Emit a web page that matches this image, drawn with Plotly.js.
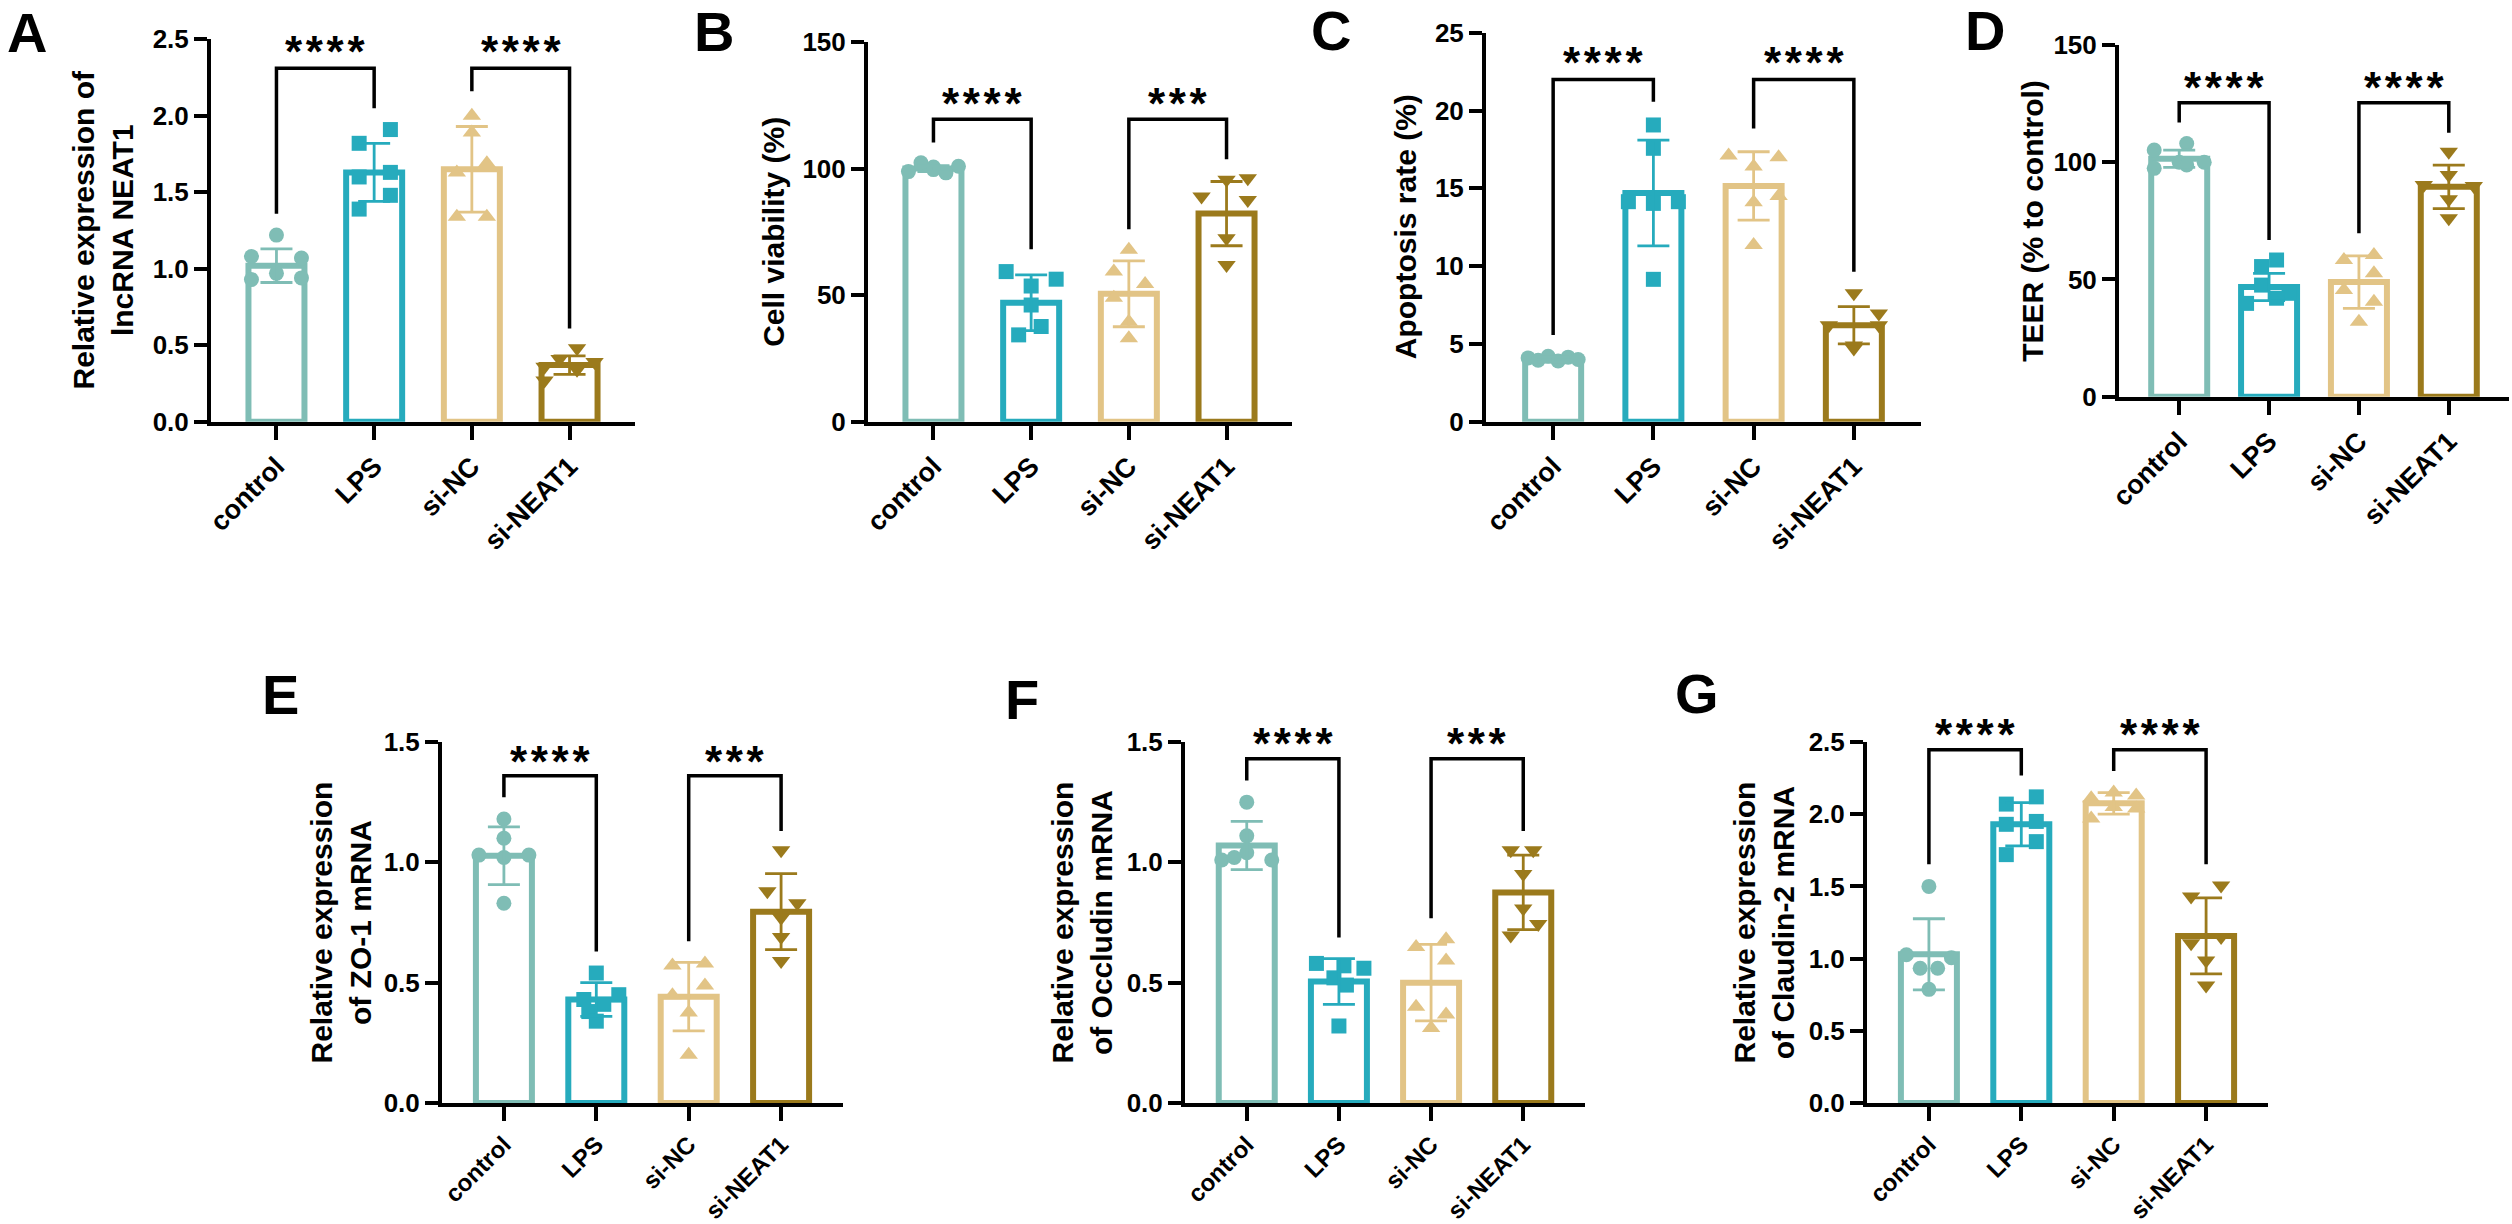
<!DOCTYPE html>
<html><head><meta charset="utf-8">
<script src="https://cdn.plot.ly/plotly-3.0.1.min.js"></script>
<style>html,body{margin:0;padding:0;background:#fff;} #chart{width:2512px;height:1224px;}</style>
</head><body><div id="chart"></div>
<script>
// ---------------- DATA ----------------
const categories = ['control', 'LPS', 'si-NC', 'si-NEAT1'];

// Panel A: lncRNA NEAT1
const A_mean = [1.02, 1.63, 1.65, 0.37];
const A_sd = [0.11, 0.19, 0.28, 0.06];
const A_points = [[1.22, 1.08, 1.07, 0.97, 0.93, 0.94], [1.82, 1.91, 1.60, 1.63, 1.39, 1.48], [2.00, 1.89, 1.63, 1.69, 1.34, 1.34], [0.48, 0.41, 0.36, 0.39, 0.34, 0.27]];
const A_brackets = [[2.31, 1.36, 2.05], [2.31, 2.16, 0.61]];
const A_stars = ['****', '****'];
const A_ticks = [0, 0.5, 1.0, 1.5, 2.0, 2.5];
const A_ticktext = ['0.0', '0.5', '1.0', '1.5', '2.0', '2.5'];

// Panel B: cell viability
const B_mean = [100, 47, 50.5, 82.2];
const B_sd = [1.2, 11, 13, 12.7];
const B_points = [[98.8, 102.3, 100.6, 98.3, 100.9, 99.6], [59.3, 56.3, 53.6, 46.1, 37.6, 34.3], [67.9, 59.3, 54.4, 49.0, 39.5, 33.0], [95.6, 96.2, 89.0, 87.6, 72.5, 61.9]];
const B_brackets = [[119.5, 110.3, 68.1], [119.5, 76, 103.7]];
const B_stars = ['****', '***'];
const B_ticks = [0, 50, 100, 150];
const B_ticktext = ['0', '50', '100', '150'];

// Panel C: apoptosis rate
const C_mean = [4.0, 14.7, 15.15, 6.2];
const C_sd = [0.15, 3.4, 2.2, 1.2];
const C_points = [[4.1, 3.95, 4.2, 3.9, 4.15, 4.0], [19.07, 17.57, 14.14, 14.03, 14.14, 9.15], [17.1, 17.0, 16.4, 14.1, 14.5, 11.35], [8.25, 6.96, 6.2, 6.2, 4.9, 4.7]];
const C_brackets = [[22.0, 5.57, 20.56], [22.0, 18.85, 9.64]];
const C_stars = ['****', '****'];
const C_ticks = [0, 5, 10, 15, 20, 25];
const C_ticktext = ['0', '5', '10', '15', '20', '25'];

// Panel D: TEER
const D_mean = [101.5, 46.8, 48.9, 89.5];
const D_sd = [3.7, 5.8, 11.2, 9.25];
const D_points = [[108, 105.2, 100, 100, 97.4, 98.8], [58.3, 55.5, 47.6, 44.1, 39.8, 42.0], [58.3, 60.4, 52.6, 45.5, 40.5, 32.0], [104.5, 94.6, 90.3, 89.9, 84.2, 76.1]];
const D_brackets = [[125.4, 116.9, 66.8], [125.4, 69.7, 112.6]];
const D_stars = ['****', '****'];
const D_ticks = [0, 50, 100, 150];
const D_ticktext = ['0', '50', '100', '150'];

// Panel E: ZO-1
const E_mean = [1.027, 0.43, 0.442, 0.795];
const E_sd = [0.12, 0.07, 0.142, 0.158];
const E_points = [[1.18, 1.10, 1.03, 1.03, 1.02, 0.83], [0.54, 0.45, 0.43, 0.41, 0.38, 0.34], [0.571, 0.58, 0.488, 0.448, 0.376, 0.20], [1.05, 0.88, 0.83, 0.77, 0.69, 0.59]];
const E_brackets = [[1.36, 1.27, 0.63], [1.36, 0.672, 1.13]];
const E_stars = ['****', '***'];
const E_ticks = [0, 0.5, 1.0, 1.5];
const E_ticktext = ['0.0', '0.5', '1.0', '1.5'];

// Panel F: Occludin
const F_mean = [1.07, 0.505, 0.50, 0.875];
const F_sd = [0.10, 0.095, 0.159, 0.155];
const F_points = [[1.25, 1.11, 1.01, 1.04, 1.01, 1.02], [0.58, 0.57, 0.56, 0.49, 0.52, 0.32], [0.68, 0.648, 0.592, 0.40, 0.368, 0.312], [1.05, 1.05, 0.952, 0.808, 0.744, 0.696]];
const F_brackets = [[1.43, 1.34, 0.688], [1.43, 0.768, 1.13]];
const F_stars = ['****', '***'];
const F_ticks = [0, 0.5, 1.0, 1.5];
const F_ticktext = ['0.0', '0.5', '1.0', '1.5'];

// Panel G: Claudin-2
const G_mean = [1.03, 1.93, 2.075, 1.157];
const G_sd = [0.246, 0.15, 0.075, 0.263];
const G_points = [[1.50, 1.027, 1.006, 0.933, 0.933, 0.787], [2.12, 2.07, 1.93, 1.95, 1.81, 1.72], [2.15, 2.13, 2.11, 2.05, 2.04, 1.97], [1.507, 1.43, 1.15, 1.107, 0.987, 0.814]];
const G_brackets = [[2.447, 1.654, 2.268], [2.447, 2.30, 1.654]];
const G_stars = ['****', '****'];
const G_ticks = [0, 0.5, 1.0, 1.5, 2.0, 2.5];
const G_ticktext = ['0.0', '0.5', '1.0', '1.5', '2.0', '2.5'];

// ---------------- LAYOUT / STYLE ----------------
const W = 2512, H = 1224;
const FONT = 'Liberation Sans, Arial, Helvetica, sans-serif';
const colors = ['#7fbdb5', '#26abbd', '#e2c486', '#9b7a1c'];
const symbols = ['circle', 'square', 'triangle-up', 'triangle-down'];
const msize = [15, 15, 16, 16];
const XR = [-0.67, 3.67];

// horizontal spread of dots (in units of ~25 px)
const A_jit = [[0, -1, 1, 0, -1, 1], [-0.6, 0.65, -0.6, 0.65, -0.6, 0.65], [0, 0, -0.6, 0.6, -0.6, 0.6], [0.3, -0.4, -1, 1, 0.3, -1]];
const B_jit = [[-1, -0.5, 0, 0.5, 1, 0], [-1, 1, 0, 0, 0.4, -0.5], [0, -0.6, 0.65, -0.6, 0, 0], [0, 0.85, -1, 0.85, 0, 0]];
const C_jit = [[-1, -0.6, -0.2, 0.2, 0.6, 1], [0, 0, -1, 0, 1, 0], [-1, 1, 0, 0, 1, 0], [0, 1, -1, 1, 0, 0]];
const D_jit = [[0.3, -1, 0, 1, -1, 0.3], [0.3, -0.3, -0.3, 0.8, -0.9, 0.3], [-0.6, 0.6, 0.6, -0.6, 0.6, 0], [0, 0, -1, 1, 0, 0]];
const E_jit = [[0, 0, -1, 1, 0, 0], [0, 0.9, -0.5, 0.3, -0.3, 0], [-0.65, 0.65, 0.65, -0.65, 0, 0], [0, -0.55, 0.65, 0, 0, 0]];
const F_jit = [[0, 0, -1, 0, 1, -0.5], [-0.9, 0.2, 1, 0.3, -0.2, 0], [0.6, -0.6, 0.6, -0.6, 0.6, 0], [-0.5, 0.4, 0, 0, 0.6, -0.5]];
const G_jit = [[0, -0.9, 0.9, -0.35, 0.35, 0], [0.6, -0.6, -0.6, 0.6, 0.6, -0.6], [0, 0.9, -0.9, 0, 0.9, -0.9], [0.6, -0.6, 0.6, -0.6, 0, 0]];

const panels = [
  {L: 'A', mean: A_mean, sd: A_sd, pts: A_points, jit: A_jit, br: A_brackets, stars: A_stars, ticks: A_ticks, tt: A_ticktext,
   title: 'Relative expression of<br>lncRNA NEAT1', x0: 211, x1: 635, yt: 39.3, yb: 421.7, ymax: 2.5, starY: 2.48, tx: 102, lx: 27, ly: 32, xfs: 27},
  {L: 'B', mean: B_mean, sd: B_sd, pts: B_points, jit: B_jit, br: B_brackets, stars: B_stars, ticks: B_ticks, tt: B_ticktext,
   title: 'Cell viability (%)', x0: 868, x1: 1292, yt: 42, yb: 421.7, ymax: 150, starY: 129.4, tx: 774, lx: 714, ly: 31, xfs: 27},
  {L: 'C', mean: C_mean, sd: C_sd, pts: C_points, jit: C_jit, br: C_brackets, stars: C_stars, ticks: C_ticks, tt: C_ticktext,
   title: 'Apoptosis rate (%)', x0: 1486, x1: 1921, yt: 32.7, yb: 421.7, ymax: 25, starY: 23.67, tx: 1405, lx: 1331, ly: 30, xfs: 27},
  {L: 'D', mean: D_mean, sd: D_sd, pts: D_points, jit: D_jit, br: D_brackets, stars: D_stars, ticks: D_ticks, tt: D_ticktext,
   title: 'TEER (% to control)', x0: 2119, x1: 2509, yt: 45, yb: 396.7, ymax: 150, starY: 135.5, tx: 2033, lx: 1985, ly: 30, xfs: 27},
  {L: 'E', mean: E_mean, sd: E_sd, pts: E_points, jit: E_jit, br: E_brackets, stars: E_stars, ticks: E_ticks, tt: E_ticktext,
   title: 'Relative expression<br>of ZO-1 mRNA', x0: 442, x1: 843, yt: 742, yb: 1103, ymax: 1.5, starY: 1.457, tx: 340, lx: 280, ly: 694, xfs: 24},
  {L: 'F', mean: F_mean, sd: F_sd, pts: F_points, jit: F_jit, br: F_brackets, stars: F_stars, ticks: F_ticks, tt: F_ticktext,
   title: 'Relative expression<br>of Occludin mRNA', x0: 1185, x1: 1585, yt: 742, yb: 1103, ymax: 1.5, starY: 1.53, tx: 1081, lx: 1022, ly: 699, xfs: 24},
  {L: 'G', mean: G_mean, sd: G_sd, pts: G_points, jit: G_jit, br: G_brackets, stars: G_stars, ticks: G_ticks, tt: G_ticktext,
   title: 'Relative expression<br>of Claudin-2 mRNA', x0: 1867, x1: 2268, yt: 742, yb: 1103, ymax: 2.5, starY: 2.615, tx: 1763, lx: 1697, ly: 693, xfs: 24}
];

const traces = [];
const shapes = [];
const annotations = [];
const layout = {
  width: W, height: H, margin: {l: 0, r: 0, t: 0, b: 0},
  paper_bgcolor: '#ffffff', plot_bgcolor: 'rgba(0,0,0,0)', showlegend: false,
  font: {family: FONT, color: '#000', weight: 'bold'}
};

const starSep = '\u200A';

panels.forEach((p, k) => {
  const n = k + 1;
  const xa = 'x' + (k === 0 ? '' : n), ya = 'y' + (k === 0 ? '' : n);
  const xkey = 'xaxis' + (k === 0 ? '' : n), ykey = 'yaxis' + (k === 0 ? '' : n);
  const spacing = (p.x1 - p.x0) / (XR[1] - XR[0]);
  const yd = [1 - p.yb / H, 1 - p.yt / H];
  const xd = [p.x0 / W, p.x1 / W];
  // data value -> paper fraction (for texts that sit above the axis range)
  const yPaper = v => yd[0] + (v / p.ymax) * (yd[1] - yd[0]);
  const xPaper = v => xd[0] + ((v - XR[0]) / (XR[1] - XR[0])) * (xd[1] - xd[0]);
  layout[xkey] = {
    domain: xd, range: XR, anchor: ya,
    tickmode: 'array', tickvals: [0, 1, 2, 3], ticktext: categories.map(c => '<b>' + c + '</b>'),
    tickangle: -45, ticks: 'outside', ticklen: 14, tickwidth: 4, tickcolor: '#000',
    showline: true, linewidth: 4, linecolor: '#000', showgrid: false, zeroline: false,
    tickfont: {family: FONT, size: p.xfs, color: '#000', weight: 'bold'}, fixedrange: true
  };
  layout[ykey] = {
    domain: yd, range: [0, p.ymax], anchor: xa,
    tickmode: 'array', tickvals: p.ticks, ticktext: p.tt.map(t => '<b>' + t + '</b>'),
    ticks: 'outside', ticklen: 13, tickwidth: 4, tickcolor: '#000',
    showline: true, linewidth: 4, linecolor: '#000', showgrid: false, zeroline: false,
    tickfont: {family: FONT, size: 26, color: '#000', weight: 'bold'}, fixedrange: true
  };
  // bars
  for (let g = 0; g < 4; g++) {
    traces.push({
      type: 'bar', x: [g], y: [p.mean[g]], xaxis: xa, yaxis: ya,
      width: [56 / spacing],
      marker: {color: 'rgba(255,255,255,0)', line: {color: colors[g], width: 6}},
      hoverinfo: 'skip'
    });
  }
  // dots
  for (let g = 0; g < 4; g++) {
    traces.push({
      type: 'scatter', mode: 'markers', xaxis: xa, yaxis: ya,
      x: p.pts[g].map((v, i) => g + p.jit[g][i] * 25 / spacing), y: p.pts[g],
      marker: {symbol: symbols[g], size: msize[g], color: colors[g], line: {width: 0}},
      hoverinfo: 'skip', cliponaxis: false
    });
  }
  // error bars (mean ± SD)
  for (let g = 0; g < 4; g++) {
    traces.push({
      type: 'scatter', mode: 'markers', xaxis: xa, yaxis: ya,
      x: [g], y: [p.mean[g]], marker: {size: 1, opacity: 0},
      error_y: {type: 'data', array: [p.sd[g]], visible: true, color: colors[g], thickness: 2.8, width: 16},
      hoverinfo: 'skip'
    });
  }
  // significance brackets
  const pairs = [[0, 1], [2, 3]];
  pairs.forEach((pr, b) => {
    const [top, yl, yr] = p.br[b];
    shapes.push({
      type: 'path', xref: xa, yref: ya,
      path: `M ${pr[0]},${yl} L ${pr[0]},${top} L ${pr[1]},${top} L ${pr[1]},${yr}`,
      line: {color: '#000', width: 3.5}
    });
    annotations.push({
      xref: 'paper', yref: 'paper', x: xPaper((pr[0] + pr[1]) / 2), y: yPaper(p.starY), yshift: -9,
      text: '<b>' + p.stars[b].split('').join(starSep) + '</b>', showarrow: false,
      xanchor: 'center', yanchor: 'middle',
      font: {family: FONT, size: 44, color: '#000', weight: 'bold'}
    });
  });
  // y-axis title
  annotations.push({
    xref: 'paper', yref: 'paper', x: p.tx / W, y: 1 - ((p.yt + p.yb) / 2) / H,
    text: '<b>' + p.title + '</b>', textangle: -90, showarrow: false,
    xanchor: 'center', yanchor: 'middle',
    font: {family: FONT, size: 30, color: '#000', weight: 'bold'}
  });
  // panel letter
  annotations.push({
    xref: 'paper', yref: 'paper', x: p.lx / W, y: 1 - p.ly / H,
    text: '<b>' + p.L + '</b>', showarrow: false, xanchor: 'center', yanchor: 'middle',
    font: {family: FONT, size: 56, color: '#000', weight: 'bold'}
  });
});

layout.shapes = shapes;
layout.annotations = annotations;
layout.bargap = 0;

Plotly.newPlot('chart', traces, layout, {displayModeBar: false, staticPlot: true});
</script>
</body></html>
